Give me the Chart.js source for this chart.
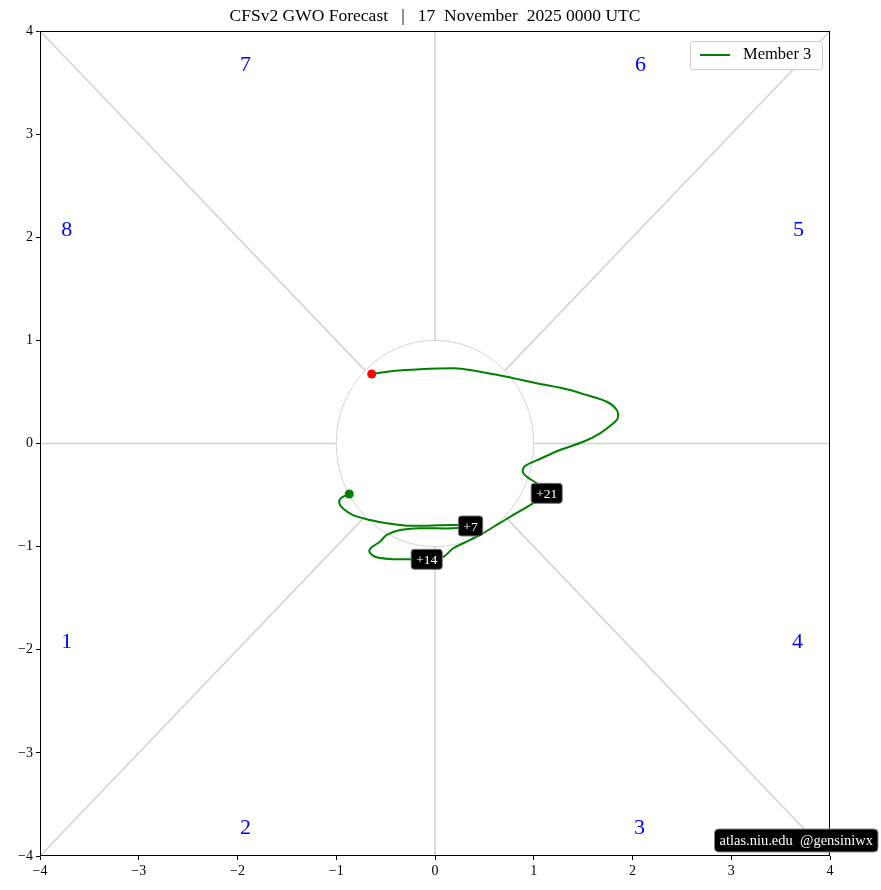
<!DOCTYPE html>
<html>
<head>
<meta charset="utf-8">
<script src="https://cdn.jsdelivr.net/npm/chart.js@4.4.1/dist/chart.umd.min.js"></script>
<style>
  html, body { margin: 0; padding: 0; background: #fff; }
  #wrap { width: 881px; height: 890px; }
</style>
</head>
<body>
<div id="wrap"><canvas id="gwo" width="881" height="890"></canvas></div>
<script>
// GWO trajectory, member 3 (start at index 0, end at last index)
const pathX = [-0.868, -0.955, -0.969, -0.935, -0.830, -0.658, -0.489, -0.287, -0.084, 0.182,
  0.360, 0.182, -0.152, -0.354, -0.489, -0.557, -0.641, -0.665, -0.608, -0.456,
  -0.253, -0.084, 0.084, 0.185, 0.321, 0.456, 0.625, 0.790, 0.992, 1.131,
  1.030, 0.929, 0.888, 0.911, 1.063, 1.266, 1.502, 1.671, 1.806, 1.850,
  1.840, 1.739, 1.536, 1.334, 1.030, 0.726, 0.456, 0.287, 0.185, -0.152,
  -0.422, -0.641];
const pathY = [-0.490, -0.532, -0.580, -0.628, -0.694, -0.742, -0.774, -0.797, -0.797, -0.790,
  -0.800, -0.822, -0.822, -0.839, -0.887, -0.952, -1.007, -1.049, -1.098, -1.120,
  -1.123, -1.123, -1.098, -1.016, -0.952, -0.887, -0.790, -0.694, -0.580, -0.483,
  -0.386, -0.322, -0.273, -0.218, -0.150, -0.063, 0.017, 0.099, 0.196, 0.244,
  0.325, 0.405, 0.470, 0.526, 0.584, 0.648, 0.696, 0.722, 0.729, 0.720,
  0.703, 0.674];

// lead-day markers along the path
const leadLabels = ['+7', '+14', '+21'];
const leadIndex = [10, 21, 29];

// phase numbers around the diagram
const phaseNames = ['1', '2', '3', '4', '5', '6', '7', '8'];
const phaseX = [-3.73, -1.92, 2.07, 3.67, 3.68, 2.08, -1.92, -3.73];
const phaseY = [-1.93, -3.73, -3.73, -1.93, 2.07, 3.67, 3.67, 2.07];

const tickValues = [-4, -3, -2, -1, 0, 1, 2, 3, 4];

const titleText = 'CFSv2 GWO Forecast   |   17  November  2025 0000 UTC';
const memberName = 'Member 3';
const creditText = 'atlas.niu.edu  @gensiniwx';

const serif = '"Liberation Serif", "DejaVu Serif", serif';

const points = pathX.map((x, i) => ({x: x, y: pathY[i]}));

function roundBox(ctx, x, y, w, h, r) {
  ctx.beginPath();
  ctx.moveTo(x + r, y);
  ctx.lineTo(x + w - r, y);
  ctx.quadraticCurveTo(x + w, y, x + w, y + r);
  ctx.lineTo(x + w, y + h - r);
  ctx.quadraticCurveTo(x + w, y + h, x + w - r, y + h);
  ctx.lineTo(x + r, y + h);
  ctx.quadraticCurveTo(x, y + h, x, y + h - r);
  ctx.lineTo(x, y + r);
  ctx.quadraticCurveTo(x, y, x + r, y);
  ctx.closePath();
}

// circle + spokes behind the data
const backdrop = {
  id: 'backdrop',
  beforeDatasetsDraw(chart) {
    const ctx = chart.ctx, sx = chart.scales.x, sy = chart.scales.y;
    const px = v => sx.getPixelForValue(v), py = v => sy.getPixelForValue(v);
    ctx.save();
    ctx.strokeStyle = '#d3d3d3';
    ctx.lineWidth = 1.6;
    const d = Math.SQRT1_2;
    const spokes = [
      [1, 0, 4, 0], [-1, 0, -4, 0], [0, 1, 0, 4], [0, -1, 0, -4],
      [d, d, 4, 4], [-d, d, -4, 4], [d, -d, 4, -4], [-d, -d, -4, -4]
    ];
    spokes.forEach(s => {
      ctx.beginPath();
      ctx.moveTo(px(s[0]), py(s[1]));
      ctx.lineTo(px(s[2]), py(s[3]));
      ctx.stroke();
    });
    ctx.lineWidth = 1;
    ctx.beginPath();
    const cx = px(0), cy = py(0);
    ctx.ellipse(cx, cy, px(1) - cx, cy - py(1), 0, 0, Math.PI * 2);
    ctx.stroke();

    ctx.fillStyle = '#0000ff';
    ctx.font = '22px ' + serif;
    ctx.textAlign = 'center';
    ctx.textBaseline = 'middle';
    phaseNames.forEach((n, i) => ctx.fillText(n, px(phaseX[i]), py(phaseY[i])));
    ctx.restore();
  },
  afterDraw(chart) {
    const ctx = chart.ctx, a = chart.chartArea, sx = chart.scales.x, sy = chart.scales.y;
    ctx.save();
    // frame
    ctx.strokeStyle = '#000';
    ctx.lineWidth = 1;
    ctx.strokeRect(a.left + 0.5, a.top + 0.5, a.right - a.left - 1, a.bottom - a.top - 1);

    // title
    ctx.fillStyle = '#000';
    ctx.font = '17.5px ' + serif;
    ctx.textAlign = 'center';
    ctx.textBaseline = 'middle';
    ctx.fillText(titleText, (a.left + a.right) / 2, 16);

    // lead-day labels
    ctx.font = '13.5px ' + serif;
    leadIndex.forEach((idx, i) => {
      const x = sx.getPixelForValue(pathX[idx]);
      const y = sy.getPixelForValue(pathY[idx]);
      const w = ctx.measureText(leadLabels[i]).width + 10;
      const h = 20;
      roundBox(ctx, x - w / 2, y - h / 2, w, h, 3);
      ctx.fillStyle = '#000';
      ctx.fill();
      ctx.strokeStyle = '#777';
      ctx.lineWidth = 1;
      ctx.stroke();
      ctx.fillStyle = '#fff';
      ctx.fillText(leadLabels[i], x, y + 1);
    });

    // legend
    const lx = a.right - 140, ly = a.top + 10, lw = 132, lh = 28;
    roundBox(ctx, lx + 0.5, ly + 0.5, lw, lh, 3);
    ctx.fillStyle = 'rgba(255,255,255,0.85)';
    ctx.fill();
    ctx.strokeStyle = '#ccc';
    ctx.stroke();
    ctx.strokeStyle = '#008000';
    ctx.lineWidth = 2;
    ctx.beginPath();
    ctx.moveTo(lx + 10, ly + 14);
    ctx.lineTo(lx + 40, ly + 14);
    ctx.stroke();
    ctx.fillStyle = '#000';
    ctx.font = '16.5px ' + serif;
    ctx.textAlign = 'left';
    ctx.fillText(memberName, lx + 53, ly + 14);

    // credit box
    ctx.font = '14.5px ' + serif;
    const cw = ctx.measureText(creditText).width + 10;
    const cx = 878 - cw, cy = 829;
    roundBox(ctx, cx, cy, cw, 23, 4);
    ctx.fillStyle = '#000';
    ctx.fill();
    ctx.strokeStyle = '#888';
    ctx.lineWidth = 1;
    ctx.stroke();
    ctx.fillStyle = '#fff';
    ctx.fillText(creditText, cx + 5, cy + 12);
    ctx.restore();
  }
};

const axisCommon = {
  type: 'linear',
  min: -4,
  max: 4,
  afterBuildTicks: scale => { scale.ticks = tickValues.map(v => ({value: v})); },
  grid: { drawOnChartArea: false, drawTicks: true, tickLength: 4, color: '#000' },
  border: { display: false },
  ticks: {
    color: '#000',
    font: { family: serif, size: 14 },
    padding: 3,
    callback: v => String(v).replace('-', '\u2212')
  }
};

new Chart(document.getElementById('gwo'), {
  type: 'scatter',
  data: {
    datasets: [{
      label: memberName,
      data: points,
      showLine: true,
      borderColor: '#008000',
      borderWidth: 2,
      tension: 0.3,
      pointRadius: points.map((p, i) => (i === 0 || i === points.length - 1) ? 4.5 : 0),
      pointBackgroundColor: points.map((p, i) => i === points.length - 1 ? '#ff0000' : '#008000'),
      pointBorderWidth: 0,
      pointHoverRadius: 0
    }]
  },
  options: {
    responsive: false,
    animation: false,
    layout: { padding: { left: 0, right: 51, top: 31, bottom: 0 } },
    plugins: {
      legend: { display: false },
      title: { display: false },
      tooltip: { enabled: false }
    },
    scales: {
      x: Object.assign({}, axisCommon, {
        position: 'bottom',
        afterFit: s => { s.height = 34; }
      }),
      y: Object.assign({}, axisCommon, {
        position: 'left',
        afterFit: s => { s.width = 40; }
      })
    }
  },
  plugins: [backdrop]
});
</script>
</body>
</html>
